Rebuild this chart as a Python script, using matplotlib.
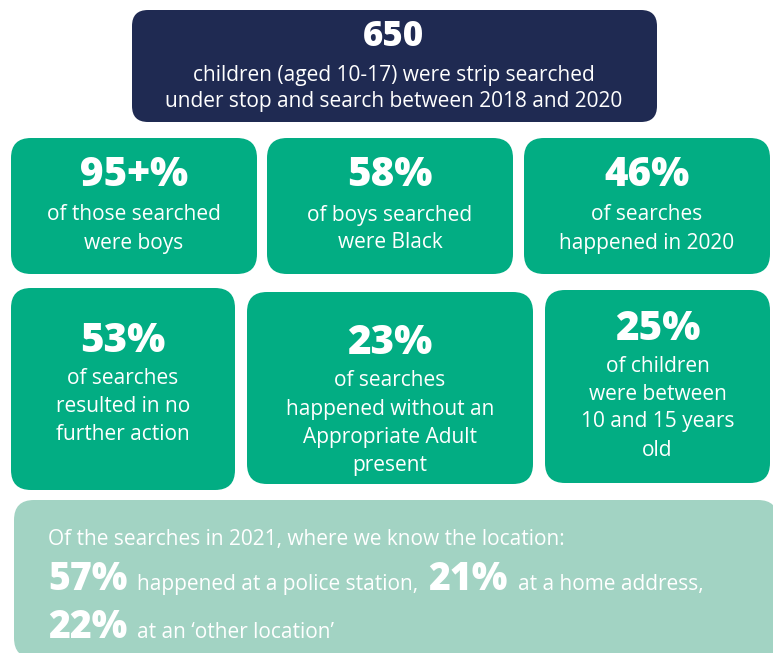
import matplotlib.pyplot as plt
from matplotlib.patches import FancyBboxPatch

plt.rcParams['font.family'] = ['Open Sans', 'DejaVu Sans']

headline = "650"
headline_text = ["children (aged 10-17) were strip searched",
                 "under stop and search between 2018 and 2020"]

row1_values = ["95+%", "58%", "46%"]
row1_text = [["of those searched", "were boys"],
             ["of boys searched", "were Black"],
             ["of searches", "happened in 2020"]]

row2_values = ["53%", "23%", "25%"]
row2_text = [["of searches", "resulted in no", "further action"],
             ["of searches", "happened without an", "Appropriate Adult", "present"],
             ["of children", "were between", "10 and 15 years", "old"]]

location_intro = "Of the searches in 2021, where we know the location:"
location_pct = ["57%", "21%", "22%"]
location_text = ["happened at a police station,", "at a home address,", "at an \u2018other location\u2019"]

navy = "#1f2a52"
green = "#02ad83"
pale = "#a2d3c3"

W, H = 773, 653
fig = plt.figure(figsize=(W / 100, H / 100), dpi=100)
ax = fig.add_axes([0, 0, 1, 1])
ax.set_xlim(0, W)
ax.set_ylim(H, 0)
ax.axis("off")


def box(x0, y0, x1, y1, color, r=20):
    ax.add_patch(FancyBboxPatch((x0, y0), x1 - x0, y1 - y0,
                                boxstyle=f"round,pad=0,rounding_size={r}",
                                fc=color, ec="none"))


# top box
box(132, 10, 657, 122, navy, 16)
ax.text(394, 37, headline, color="white", fontsize=25, fontweight="heavy",
        ha="center", va="center")
for i, line in enumerate(headline_text):
    ax.text(394, 75 + i * 27, line, color="white", fontsize=15,
            ha="center", va="center")

# first row
row1_boxes = [(11, 138, 257, 274), (267, 138, 513, 274), (524, 138, 770, 274)]
for (x0, y0, x1, y1), val, lines in zip(row1_boxes, row1_values, row1_text):
    box(x0, y0, x1, y1, green)
    cx = (x0 + x1) / 2
    ax.text(cx, 176, val, color="white", fontsize=29, fontweight="heavy",
            ha="center", va="center")
    for i, line in enumerate(lines):
        ax.text(cx, 215 + i * 28, line, color="white", fontsize=15,
                ha="center", va="center")

# second row
row2_boxes = [(11, 288, 235, 490), (247, 292, 533, 484), (545, 290, 770, 483)]
row2_top = [342, 344, 329]
for (x0, y0, x1, y1), val, lines, ty in zip(row2_boxes, row2_values, row2_text, row2_top):
    box(x0, y0, x1, y1, green)
    cx = (x0 + x1) / 2
    ax.text(cx, ty, val, color="white", fontsize=29, fontweight="heavy",
            ha="center", va="center")
    for i, line in enumerate(lines):
        ax.text(cx, ty + 37 + i * 28, line, color="white", fontsize=15,
                ha="center", va="center")

# bottom box
box(14, 500, 778, 658, pale)
ax.text(48, 540, location_intro, color="white", fontsize=15, ha="left", va="center")

fig.canvas.draw()
renderer = fig.canvas.get_renderer()
inv = ax.transData.inverted()


def run(x, y, parts):
    for s, big in parts:
        t = ax.text(x, y, s, color="white", ha="left", va="baseline",
                    fontsize=27 if big else 15,
                    fontweight="heavy" if big else "normal")
        bb = t.get_window_extent(renderer)
        x = inv.transform((bb.x1, bb.y0))[0] + 10


run(48, 590, [(location_pct[0], True), (location_text[0], False),
              (location_pct[1], True), (location_text[1], False)])
run(48, 638, [(location_pct[2], True), (location_text[2], False)])

fig.savefig("out.png", dpi=100)
